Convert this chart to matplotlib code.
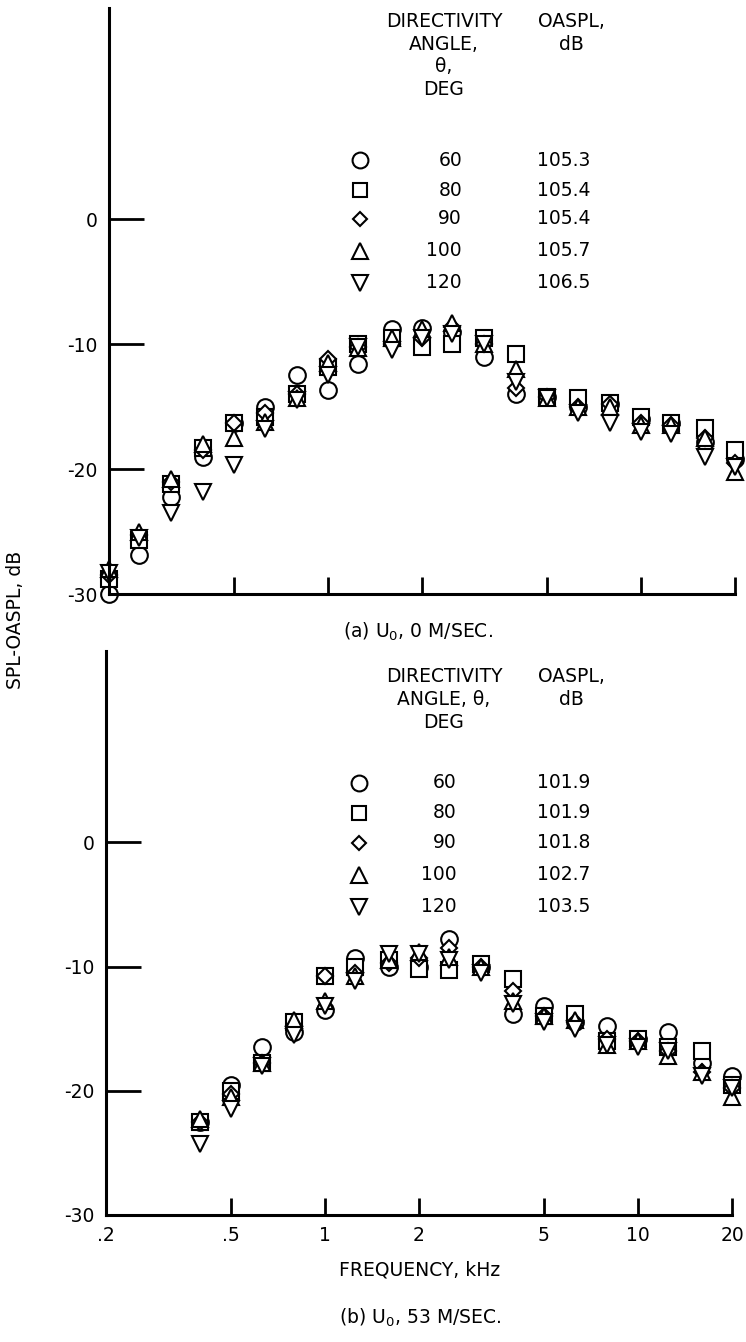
import matplotlib
matplotlib.use("Agg")
import matplotlib.pyplot as plt
from matplotlib.lines import Line2D
from matplotlib.ticker import FixedLocator, FixedFormatter, NullLocator

# 1/3-octave band centre frequencies, kHz
freq_a = [0.2, 0.25, 0.315, 0.4, 0.5, 0.63, 0.8, 1.0, 1.25, 1.6, 2.0,
          2.5, 3.15, 4.0, 5.0, 6.3, 8.0, 10.0, 12.5, 16.0, 20.0]
freq_b = freq_a[3:]

angles = ["60", "80", "90", "100", "120"]
markers = ["o", "s", "D", "^", "v"]

oaspl_a = ["105.3", "105.4", "105.4", "105.7", "106.5"]
oaspl_b = ["101.9", "101.9", "101.8", "102.7", "103.5"]

# (a) U0 = 0 m/sec, SPL - OASPL, dB
spl_a_60 = [-30.0, -26.9, -22.2, -19.0, -16.3, -15.0, -12.5, -13.7, -11.6, -8.8, -8.7,
            -9.0, -11.0, -14.0, -14.2, -15.0, -14.8, -16.0, -16.3, -17.8, -19.2]
spl_a_80 = [-28.8, -25.7, -21.2, -18.3, -16.3, -15.8, -14.0, -11.8, -10.0, -9.5, -10.2,
            -10.0, -9.5, -10.8, -14.2, -14.3, -14.7, -15.8, -16.3, -16.7, -18.5]
spl_a_90 = [-28.5, -25.3, -21.0, -18.5, -16.3, -15.5, -14.0, -11.2, -10.2, -10.0, -9.5,
            -8.6, -10.0, -13.5, -14.2, -15.0, -14.8, -16.3, -16.5, -17.5, -19.5]
spl_a_100 = [-28.0, -25.0, -20.8, -18.0, -17.5, -16.2, -14.3, -11.5, -10.3, -9.5, -8.8,
             -8.3, -10.0, -12.0, -14.3, -15.0, -15.0, -16.5, -16.5, -17.5, -20.2]
spl_a_120 = [-28.3, -25.5, -23.5, -21.8, -19.7, -16.8, -14.5, -12.5, -10.2, -10.5, -9.5,
             -9.2, -10.0, -13.0, -14.3, -15.5, -16.3, -17.0, -17.2, -19.0, -19.8]

# (b) U0 = 53 m/sec
spl_b_60 = [-22.5, -19.5, -16.5, -15.3, -13.5, -9.3, -10.0, -10.0, -7.8, -10.0,
            -13.8, -13.2, -14.5, -14.8, -15.8, -15.3, -17.8, -18.8]
spl_b_80 = [-22.5, -20.0, -17.8, -14.5, -10.8, -10.0, -9.5, -10.2, -10.3, -9.8,
            -11.0, -14.0, -13.8, -16.0, -15.8, -16.5, -16.8, -19.5]
spl_b_90 = [-22.5, -20.3, -17.8, -14.8, -10.8, -10.5, -9.7, -9.3, -8.5, -10.0,
            -12.0, -14.0, -14.5, -15.8, -16.0, -16.8, -18.5, -19.8]
spl_b_100 = [-22.3, -20.5, -17.8, -14.3, -12.8, -10.8, -9.5, -8.8, -9.2, -10.0,
             -12.8, -14.0, -14.3, -16.3, -16.0, -17.2, -18.5, -20.5]
spl_b_120 = [-24.3, -21.5, -18.0, -15.5, -13.2, -11.2, -9.0, -9.0, -9.5, -10.5,
             -13.0, -14.5, -15.0, -16.3, -16.5, -16.8, -18.8, -19.8]

series_a = [spl_a_60, spl_a_80, spl_a_90, spl_a_100, spl_a_120]
series_b = [spl_b_60, spl_b_80, spl_b_90, spl_b_100, spl_b_120]

xticks = [0.2, 0.5, 1, 2, 5, 10, 20]
xticklabels = [".2", ".5", "1", "2", "5", "10", "20"]
yticks = [-30, -20, -10, 0]

W, H = 746, 1342
FS = 13.5
msizes = {"o": 12, "s": 11, "D": 8, "^": 12, "v": 12}


def px(x, y):
    return x / W, 1 - y / H


fig = plt.figure(figsize=(W / 100, H / 100), dpi=100)
ax_a = fig.add_axes([109 / W, 1 - 594 / H, 626 / W, 586 / H])
ax_b = fig.add_axes([106 / W, 1 - 1215 / H, 626 / W, 564 / H])


def style_axis(ax, ytop, show_xlabels):
    ax.set_xscale("log")
    ax.set_xlim(0.2, 20)
    ax.set_ylim(-30, ytop)
    for s in ["top", "right"]:
        ax.spines[s].set_visible(False)
    for s in ["left", "bottom"]:
        ax.spines[s].set_linewidth(2.2)
    ax.xaxis.set_major_locator(FixedLocator(xticks))
    ax.xaxis.set_minor_locator(NullLocator())
    if show_xlabels:
        ax.xaxis.set_major_formatter(FixedFormatter(xticklabels))
    else:
        ax.xaxis.set_major_formatter(FixedFormatter([""] * len(xticks)))
    ax.set_yticks(yticks)
    ax.set_yticklabels([str(v) for v in yticks])
    ax.tick_params(axis="x", direction="in", length=12, width=2, labelsize=FS, pad=8)
    ax.tick_params(axis="y", direction="in", length=25, width=2, labelsize=FS, pad=8)


def draw_data(ax, freq, series):
    for m, vals in zip(markers, series):
        ax.plot(freq, vals, linestyle="none", marker=m, markersize=msizes[m],
                markerfacecolor="white", markeredgecolor="black",
                markeredgewidth=1.5, clip_on=False)


def draw_legend(head_left, head_right, head_y, row_y, mx, ax_x, oa_x, oaspl):
    fig.text(*px(444, head_y[0]), head_left, ha="center", va="top",
             fontsize=FS, linespacing=1.25)
    fig.text(*px(571, head_y[0]), head_right, ha="center", va="top",
             fontsize=FS, linespacing=1.25)
    for m, a, o, y in zip(markers, angles, oaspl, row_y):
        fig.add_artist(Line2D([mx / W], [1 - y / H], transform=fig.transFigure,
                              marker=m, markersize=msizes[m] * 0.95,
                              markerfacecolor="white", markeredgecolor="black",
                              markeredgewidth=1.5, linestyle="none"))
        fig.text(*px(ax_x, y), a, ha="right", va="center", fontsize=FS)
        fig.text(*px(oa_x, y), o, ha="left", va="center", fontsize=FS)


style_axis(ax_a, 16.9, False)
style_axis(ax_b, 15.4, True)
draw_data(ax_a, freq_a, series_a)
draw_data(ax_b, freq_b, series_b)

draw_legend("DIRECTIVITY\nANGLE,\nθ,\nDEG", "OASPL,\ndB", [12],
            [160, 190, 219, 251, 283], 360, 462, 537, oaspl_a)
draw_legend("DIRECTIVITY\nANGLE, θ,\nDEG", "OASPL,\ndB", [667],
            [783, 813, 843, 875, 907], 359, 457, 537, oaspl_b)

fig.text(*px(418, 632), "(a) U$_0$, 0 M/SEC.", ha="center", va="center", fontsize=FS)
fig.text(*px(420, 1270), "FREQUENCY, kHz", ha="center", va="center", fontsize=FS)
fig.text(*px(420, 1318), "(b) U$_0$, 53 M/SEC.", ha="center", va="center", fontsize=FS)
fig.text(*px(16, 620), "SPL-OASPL, dB", ha="center", va="center", rotation=90, fontsize=FS)

fig.savefig("out.png", dpi=100)
